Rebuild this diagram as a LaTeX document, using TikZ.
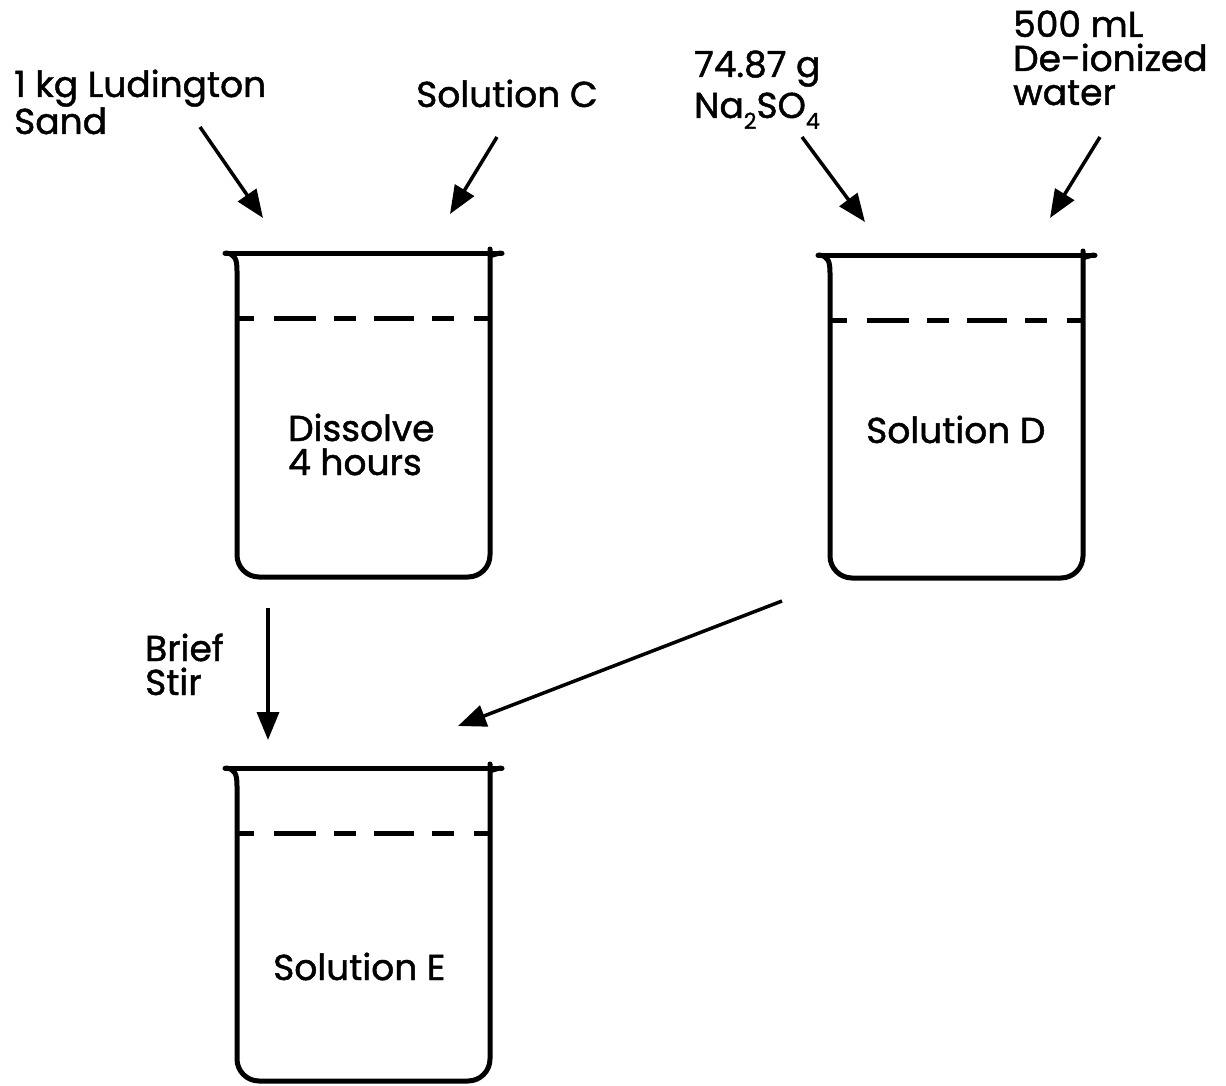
\documentclass[tikz,border=0pt]{standalone}
\usepackage{fontspec}
\setmainfont{Poppins}[FakeBold=1.3]
\usetikzlibrary{arrows.meta}
\newcommand\mybeaker[4]{%
  % #1 = left wall x, #2 = rim y, #3 = height, #4 = name
  \draw[beakerline] ({#1-12},#2) -- ({#1+253+12},#2);
  \draw[beakerline] ({#1-11},#2) .. controls ({#1-2},{#2+1}) and (#1,{#2+6}) .. (#1,{#2+18})
     [rounded corners=22pt] -- (#1,{#2+#3}) -- ({#1+253},{#2+#3}) -- ({#1+253},{#2+18})
     [sharp corners] .. controls ({#1+253},{#2+6}) and ({#1+255},{#2+1}) .. ({#1+264},#2);
  \draw[level] (#1,{#2+65}) -- ({#1+253},{#2+65});
  \coordinate (#4) at ({#1+126},{#2+#3/2});
}
\newcommand\subnum[1]{\raisebox{-0.3em}{\fontsize{22}{22}\selectfont #1}}
\begin{document}
\begin{tikzpicture}[x=1pt,y=-1pt,
  beakerline/.style={line width=5pt,line cap=round,line join=round},
  level/.style={line width=5pt,dash pattern=on 17pt off 20pt on 42pt off 18pt on 22pt off 18pt on 40pt off 18pt on 22pt off 20pt on 20pt},
  lbl/.style={font=\fontsize{36}{34}\selectfont,align=left,inner sep=0pt,anchor=base west},
  feed/.style={line width=3.5pt,-{Triangle[length=28pt,width=22pt]}}]
\useasboundingbox (0,0) rectangle (1226,1086);
\fill[white] (0,0) rectangle (1226,1086);

\mybeaker{237}{253}{324}{b1}
\mybeaker{830}{255}{323}{b2}
\mybeaker{237}{768}{313}{b3}

\node[lbl,font=\fontsize{36}{37}\selectfont] (sand) at (14,134) {1 kg Ludington\\Sand};
\node[lbl] (solc) at (416,107) {Solution C};
\node[lbl,font=\fontsize{36}{41}\selectfont] (salt) at (694,118) {74.87 g\\Na\subnum{2}SO\subnum{4}};
\node[lbl] (water) at (1013,105) {500 mL\\De-ionized\\water};
\node[lbl] (diss) at (288,475) {Dissolve\\4 hours};
\node[lbl] (sold) at (866,443) {Solution D};
\node[lbl] (stir) at (145,695) {Brief\\Stir};
\node[lbl] (sole) at (273,980) {Solution E};

\coordinate (a1s) at (200,127); \coordinate (a1e) at (263,218);
\coordinate (a2s) at (497,137); \coordinate (a2e) at (450,214);
\coordinate (a3s) at (802,137); \coordinate (a3e) at (865,222);
\coordinate (a4s) at (1100,137); \coordinate (a4e) at (1050,218);
\coordinate (a5s) at (268,608); \coordinate (a5e) at (268,740);
\coordinate (a6s) at (782,601); \coordinate (a6e) at (458,726);

\draw[feed] (a1s) -- (a1e);
\draw[feed] (a2s) -- (a2e);
\draw[feed] (a3s) -- (a3e);
\draw[feed] (a4s) -- (a4e);
\draw[feed] (a5s) -- (a5e);
\draw[feed] (a6s) -- (a6e);
\end{tikzpicture}
\end{document}
